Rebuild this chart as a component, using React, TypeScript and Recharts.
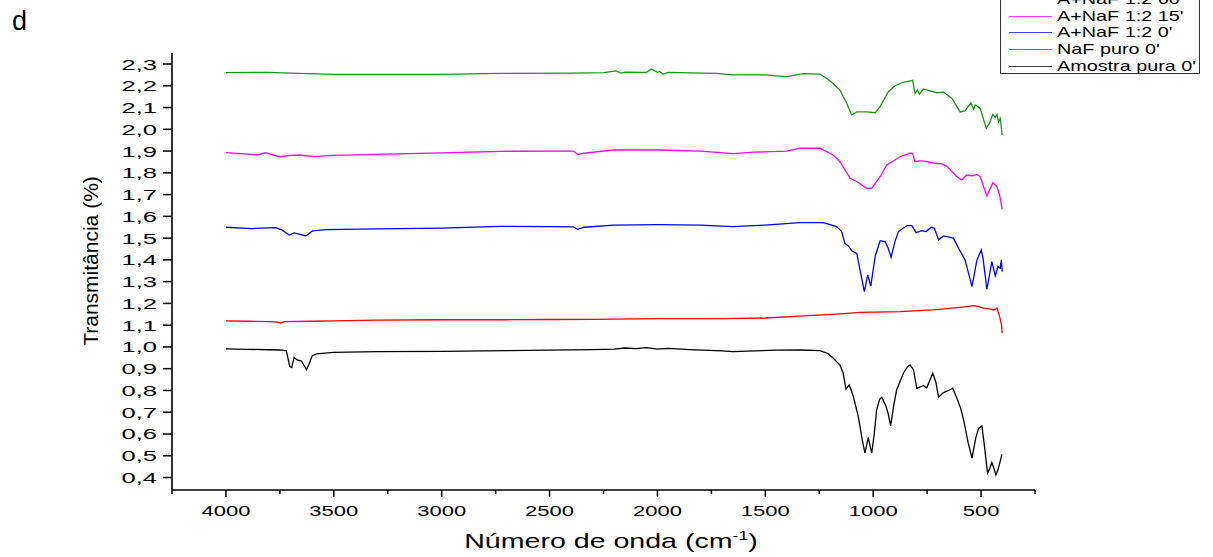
import { LineChart, Line, XAxis, YAxis } from "recharts";

type Pt = [number, number];

// wavenumber (cm-1), transmittance
const amostraPura: Pt[] = [
  [4000, 0.991], [3900, 0.989], [3800, 0.987], [3750, 0.986], [3720, 0.982], [3704, 0.91],
  [3695, 0.905], [3684, 0.952], [3670, 0.94], [3650, 0.935], [3635, 0.91], [3627, 0.895],
  [3615, 0.92], [3600, 0.96], [3580, 0.968], [3500, 0.975], [3300, 0.978], [3000, 0.98],
  [2700, 0.983], [2500, 0.985], [2300, 0.988], [2200, 0.99], [2150, 0.995], [2100, 0.992],
  [2050, 0.997], [2000, 0.99], [1950, 0.993], [1850, 0.988], [1700, 0.982], [1650, 0.978],
  [1550, 0.982], [1450, 0.985], [1340, 0.986], [1247, 0.983], [1210, 0.97], [1185, 0.948],
  [1154, 0.917], [1139, 0.879], [1126, 0.806], [1111, 0.826], [1092, 0.772], [1069, 0.68],
  [1050, 0.57], [1038, 0.512], [1023, 0.584], [1007, 0.512], [995, 0.6], [984, 0.711],
  [970, 0.76], [960, 0.769], [940, 0.726], [930, 0.69], [919, 0.637], [905, 0.73],
  [891, 0.803], [860, 0.879], [840, 0.91], [829, 0.917], [813, 0.894], [798, 0.81],
  [785, 0.815], [767, 0.822], [752, 0.812], [740, 0.84], [724, 0.879], [710, 0.84],
  [697, 0.769], [685, 0.78], [674, 0.79], [650, 0.8], [631, 0.81], [612, 0.764],
  [595, 0.72], [581, 0.665], [560, 0.56], [542, 0.489], [525, 0.58], [511, 0.627],
  [496, 0.637], [485, 0.55], [470, 0.42], [460, 0.44], [450, 0.469], [440, 0.44],
  [431, 0.412], [420, 0.44], [410, 0.48], [403, 0.507],
];

const nafPuro: Pt[] = [
  [4000, 1.12], [3900, 1.118], [3800, 1.116], [3760, 1.114], [3746, 1.11], [3730, 1.116],
  [3600, 1.118], [3500, 1.12], [3300, 1.123], [3000, 1.125], [2700, 1.125], [2500, 1.126],
  [2300, 1.127], [2000, 1.13], [1700, 1.13], [1500, 1.133], [1340, 1.142], [1154, 1.152],
  [1061, 1.159], [875, 1.162], [721, 1.17], [597, 1.182], [560, 1.186], [535, 1.19],
  [510, 1.185], [489, 1.178], [460, 1.175], [442, 1.17], [426, 1.178], [414, 1.139],
  [405, 1.1], [402, 1.063],
];

const naf0: Pt[] = [
  [4000, 1.55], [3879, 1.544], [3769, 1.548], [3741, 1.538], [3707, 1.514], [3684, 1.524],
  [3661, 1.518], [3630, 1.51], [3599, 1.533], [3537, 1.539], [3300, 1.542], [3000, 1.546],
  [2732, 1.554], [2500, 1.553], [2390, 1.552], [2370, 1.54], [2340, 1.55], [2200, 1.56],
  [2000, 1.562], [1800, 1.56], [1650, 1.553], [1500, 1.56], [1340, 1.571], [1231, 1.571],
  [1169, 1.553], [1146, 1.53], [1131, 1.476], [1115, 1.464], [1100, 1.442], [1076, 1.43],
  [1061, 1.354], [1041, 1.254], [1025, 1.331], [1011, 1.28], [991, 1.415], [968, 1.488],
  [945, 1.484], [930, 1.453], [917, 1.412], [899, 1.484], [883, 1.53], [844, 1.557],
  [821, 1.557], [801, 1.525], [775, 1.534], [755, 1.53], [731, 1.55], [716, 1.545],
  [697, 1.492], [674, 1.51], [628, 1.5], [604, 1.453], [574, 1.4], [542, 1.277],
  [519, 1.4], [499, 1.446], [491, 1.408], [473, 1.265], [450, 1.392], [434, 1.326],
  [422, 1.369], [411, 1.362], [406, 1.4], [402, 1.346],
];

const naf15: Pt[] = [
  [4000, 1.893], [3916, 1.887], [3855, 1.882], [3816, 1.893], [3754, 1.874], [3700, 1.88],
  [3661, 1.882], [3591, 1.874], [3507, 1.88], [3300, 1.885], [3000, 1.892], [2732, 1.899],
  [2500, 1.9], [2390, 1.9], [2370, 1.885], [2340, 1.89], [2200, 1.905], [2000, 1.905],
  [1800, 1.9], [1650, 1.888], [1550, 1.895], [1400, 1.9], [1340, 1.913], [1247, 1.913],
  [1185, 1.882], [1154, 1.851], [1107, 1.775], [1076, 1.76], [1030, 1.729], [1007, 1.729],
  [968, 1.782], [937, 1.836], [875, 1.874], [829, 1.89], [817, 1.888], [806, 1.851],
  [788, 1.855], [775, 1.855], [752, 1.851], [713, 1.844], [682, 1.841], [659, 1.831],
  [612, 1.782], [589, 1.767], [566, 1.79], [542, 1.786], [519, 1.793], [504, 1.782],
  [473, 1.694], [445, 1.755], [426, 1.736], [414, 1.698], [402, 1.632],
];

const naf60: Pt[] = [
  [4000, 2.26], [3800, 2.262], [3700, 2.258], [3500, 2.252], [3000, 2.252], [2732, 2.257],
  [2400, 2.258], [2250, 2.26], [2191, 2.268], [2170, 2.258], [2150, 2.263], [2050, 2.262],
  [2028, 2.277], [2000, 2.262], [1990, 2.266], [1975, 2.254], [1950, 2.262], [1727, 2.257],
  [1650, 2.25], [1500, 2.25], [1401, 2.242], [1325, 2.256], [1247, 2.254], [1210, 2.23],
  [1186, 2.21], [1154, 2.18], [1123, 2.12], [1100, 2.066], [1076, 2.08], [1030, 2.08],
  [991, 2.076], [968, 2.104], [930, 2.173], [899, 2.2], [865, 2.215], [829, 2.222],
  [817, 2.225], [806, 2.165], [795, 2.18], [786, 2.161], [767, 2.185], [736, 2.177],
  [705, 2.168], [674, 2.171], [635, 2.142], [597, 2.08], [574, 2.085], [547, 2.122],
  [535, 2.092], [527, 2.112], [504, 2.096], [476, 2.005], [461, 2.027], [445, 2.069],
  [434, 2.055], [426, 2.069], [419, 2.035], [411, 2.05], [402, 1.974],
];

const xMajorTicks = [500, 1000, 1500, 2000, 2500, 3000, 3500, 4000];
const xAllTicks = [
  250, 500, 750, 1000, 1250, 1500, 1750, 2000, 2250, 2500, 2750, 3000, 3250, 3500, 3750,
  4000, 4250,
];
const yTicks = [
  0.4, 0.5, 0.6, 0.7, 0.8, 0.9, 1.0, 1.1, 1.2, 1.3, 1.4, 1.5, 1.6, 1.7, 1.8, 1.9, 2.0, 2.1,
  2.2, 2.3,
];

const series = [
  { name: "A+NaF 1:2 60'", color: "#159915", points: naf60 },
  { name: "A+NaF 1:2 15'", color: "#ff00ff", points: naf15 },
  { name: "A+NaF 1:2 0'", color: "#0000ff", points: naf0 },
  { name: "NaF puro 0'", color: "#ff0000", points: nafPuro },
  { name: "Amostra pura 0'", color: "#000000", points: amostraPura },
];

const FONT = '"Liberation Sans", Arial, sans-serif';

const XTick = (props: any) => {
  const { x, y, payload } = props;
  const major = xMajorTicks.includes(payload.value);
  return (
    <g>
      <line x1={x} x2={x} y1={y} y2={y + (major ? 7 : 4)} stroke="#000" strokeWidth={1.5} />
      {major && (
        <text
          transform={`translate(${x},${y + 25.5}) scale(1.42,1)`}
          textAnchor="middle"
          fontSize={15.5}
          fontFamily={FONT}
          fill="#000"
        >
          {payload.value}
        </text>
      )}
    </g>
  );
};

const YTick = (props: any) => {
  const { x, y, payload } = props;
  return (
    <text
      transform={`translate(${x},${y + 5.5}) scale(1.65,1)`}
      textAnchor="end"
      fontSize={15.5}
      fontFamily={FONT}
      fill="#000"
    >
      {payload.value.toFixed(1).replace(".", ",")}
    </text>
  );
};

export default function App() {
  return (
    <div style={{ position: "absolute", left: 0, top: 0, width: 1213, height: 557, background: "#fff", fontFamily: FONT, overflow: "hidden" }}>
      <LineChart width={1213} height={557} margin={{ top: 53, right: 178, bottom: 0, left: 0 }}>
        <XAxis
          dataKey="wn"
          type="number"
          domain={[250, 4250]}
          reversed
          ticks={xAllTicks}
          interval={0}
          allowDataOverflow
          height={67}
          tickSize={0}
          tickMargin={0}
          tickLine={false}
          axisLine={{ stroke: "#000", strokeWidth: 1.6 }}
          tick={<XTick />}
        />
        <YAxis
          type="number"
          domain={[0.3426, 2.3506]}
          ticks={yTicks}
          interval={0}
          allowDataOverflow
          width={172}
          tickSize={9}
          tickMargin={6}
          tickLine={{ stroke: "#000", strokeWidth: 1.5 }}
          axisLine={{ stroke: "#000", strokeWidth: 1.6 }}
          tick={<YTick />}
        />
        {series.map((s) => (
          <Line
            key={s.name}
            data={s.points.map(([wn, t]) => ({ wn, t }))}
            dataKey="t"
            name={s.name}
            type="linear"
            stroke={s.color}
            strokeWidth={1.3}
            dot={false}
            activeDot={false}
            isAnimationActive={false}
          />
        ))}
      </LineChart>

      <div style={{ position: "absolute", left: 12, top: 8, fontSize: 27, lineHeight: "27px" }}>d</div>

      <div
        style={{
          position: "absolute",
          left: 91,
          top: 261,
          fontSize: 21,
          whiteSpace: "nowrap",
          transform: "translate(-50%, -50%) rotate(-90deg)",
        }}
      >
        Transmitância (%)
      </div>

      <div
        style={{
          position: "absolute",
          left: 611,
          top: 538,
          fontSize: 21,
          whiteSpace: "nowrap",
          lineHeight: "24px",
          transform: "translate(-50%, -50%) scale(1.36, 1)",
        }}
      >
        Número de onda (cm<span style={{ fontSize: 13, verticalAlign: "8px" }}>-1</span>)
      </div>

      <div
        style={{
          position: "absolute",
          left: 1000,
          top: -14,
          width: 198,
          height: 86,
          border: "1px solid #333",
          background: "#fff",
        }}
      >
        {series.map((s, i) => (
          <div key={s.name} style={{ position: "absolute", left: 0, top: 4 + i * 16.7, height: 16, width: 198 }}>
            <div style={{ position: "absolute", left: 8, top: 8, width: 43, height: 1, background: s.color, opacity: 0.75 }} />
            <div
              style={{
                position: "absolute",
                left: 56,
                top: 0,
                fontSize: 15,
                lineHeight: "16px",
                whiteSpace: "nowrap",
                transform: "scale(1.32, 1)",
                transformOrigin: "left center",
              }}
            >
              {s.name}
            </div>
          </div>
        ))}
      </div>
    </div>
  );
}
